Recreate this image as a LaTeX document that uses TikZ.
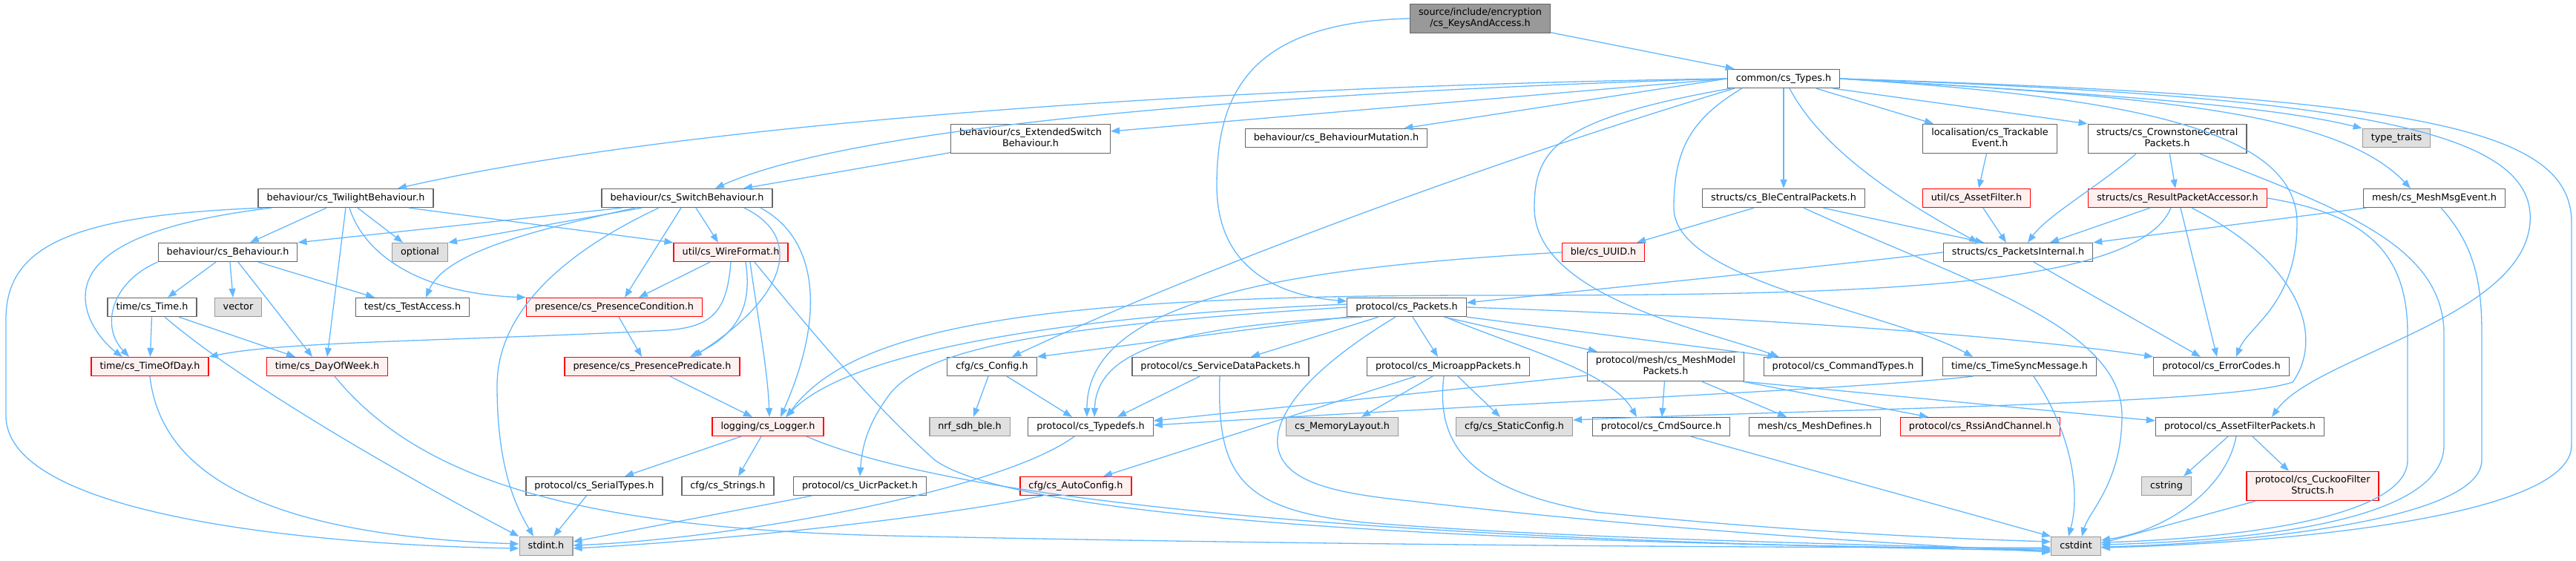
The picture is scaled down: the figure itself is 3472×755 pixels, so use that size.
\documentclass[tikz,border=0pt]{standalone}
\usepackage{fontspec}
\setmainfont{DejaVu Sans}
\usetikzlibrary{arrows.meta}
\definecolor{cedge}{HTML}{63B8FF}
\definecolor{cline}{HTML}{666666}
\definecolor{credfill}{HTML}{FFF0F0}
\definecolor{csysfill}{HTML}{E0E0E0}
\definecolor{csysline}{HTML}{999999}
\definecolor{crootfill}{HTML}{999999}
\tikzset{
  every picture/.style={line width=1.3pt},
  hdr/.style={draw=cline, fill=white, align=center, inner xsep=11.5pt, inner ysep=5pt,
    font=\fontsize{12.8pt}{15pt}\selectfont, execute at begin node=\strut, execute at end node=\strut},
  hdrred/.style={hdr, draw=red, fill=credfill},
  hdrsys/.style={hdr, draw=csysline, fill=csysfill},
  hdrroot/.style={hdr, draw=cline, fill=crootfill},
  dep/.style={draw=cedge, -{Triangle[length=12pt, width=9pt]}},
}
\begin{document}
\begin{tikzpicture}[x=1pt, y=-1pt]
  \useasboundingbox (0,0) rectangle (3472,755);
  % files, one row per rank
  \node[hdrroot] (root) at (1995,25) {source/include/encryption\\/cs\_KeysAndAccess.h};
  \node[hdr] (types) at (2404,106) {common/cs\_Types.h};
  \node[hdr] (extsw) at (1389,187) {behaviour/cs\_ExtendedSwitch\\Behaviour.h};
  \node[hdr] (bmut) at (1801,186) {behaviour/cs\_BehaviourMutation.h};
  \node[hdr] (track) at (2682,187) {localisation/cs\_Trackable\\Event.h};
  \node[hdr] (crown) at (2921,187) {structs/cs\_CrownstoneCentral\\Packets.h};
  \node[hdrsys] (ttraits) at (3230,186) {type\_traits};
  \node[hdr] (twil) at (466,267) {behaviour/cs\_TwilightBehaviour.h};
  \node[hdr] (switch) at (926,267) {behaviour/cs\_SwitchBehaviour.h};
  \node[hdr] (blecent) at (2404,267) {structs/cs\_BleCentralPackets.h};
  \node[hdrred] (assetf) at (2664,267) {util/cs\_AssetFilter.h};
  \node[hdrred] (result) at (2935,267) {structs/cs\_ResultPacketAccessor.h};
  \node[hdr] (meshmsg) at (3281,267) {mesh/cs\_MeshMsgEvent.h};
  \node[hdr] (behav) at (307,340) {behaviour/cs\_Behaviour.h};
  \node[hdrsys] (optional) at (566,340) {optional};
  \node[hdrred] (wire) at (985,340) {util/cs\_WireFormat.h};
  \node[hdrred] (uuid) at (2161,340) {ble/cs\_UUID.h};
  \node[hdr] (pint) at (2720,340) {structs/cs\_PacketsInternal.h};
  \node[hdr] (time) at (205,414) {time/cs\_Time.h};
  \node[hdrsys] (vector) at (321,414) {vector};
  \node[hdr] (test) at (556,414) {test/cs\_TestAccess.h};
  \node[hdrred] (pcond) at (828,414) {presence/cs\_PresenceCondition.h};
  \node[hdr] (packets) at (1896,414) {protocol/cs\_Packets.h};
  \node[hdrred] (tod) at (202,494) {time/cs\_TimeOfDay.h};
  \node[hdrred] (dow) at (441,494) {time/cs\_DayOfWeek.h};
  \node[hdrred] (ppred) at (879,494) {presence/cs\_PresencePredicate.h};
  \node[hdr] (config) at (1337,494) {cfg/cs\_Config.h};
  \node[hdr] (sdata) at (1645,494) {protocol/cs\_ServiceDataPackets.h};
  \node[hdr] (micro) at (1952,494) {protocol/cs\_MicroappPackets.h};
  \node[hdr] (meshmodel) at (2245,494) {protocol/mesh/cs\_MeshModel\\Packets.h};
  \node[hdr] (cmdtypes) at (2484,494) {protocol/cs\_CommandTypes.h};
  \node[hdr] (tsync) at (2722,494) {time/cs\_TimeSyncMessage.h};
  \node[hdr] (errc) at (2994,494) {protocol/cs\_ErrorCodes.h};
  \node[hdrred] (logger) at (1035,575) {logging/cs\_Logger.h};
  \node[hdrsys] (nrf) at (1307,575) {nrf\_sdh\_ble.h};
  \node[hdr] (typedefs) at (1470,575) {protocol/cs\_Typedefs.h};
  \node[hdrsys] (memlay) at (1809,575) {cs\_MemoryLayout.h};
  \node[hdrsys] (static) at (2041,575) {cfg/cs\_StaticConfig.h};
  \node[hdr] (cmdsrc) at (2239,575) {protocol/cs\_CmdSource.h};
  \node[hdr] (meshdef) at (2446,575) {mesh/cs\_MeshDefines.h};
  \node[hdrred] (rssi) at (2669,575) {protocol/cs\_RssiAndChannel.h};
  \node[hdr] (afp) at (3019,575) {protocol/cs\_AssetFilterPackets.h};
  \node[hdr] (serial) at (801,655) {protocol/cs\_SerialTypes.h};
  \node[hdr] (strings) at (981,655) {cfg/cs\_Strings.h};
  \node[hdr] (uicr) at (1159,655) {protocol/cs\_UicrPacket.h};
  \node[hdrred] (autoconf) at (1450,655) {cfg/cs\_AutoConfig.h};
  \node[hdrsys] (cstring) at (2920,655) {cstring};
  \node[hdrred] (cuckoo) at (3117,655) {protocol/cs\_CuckooFilter\\Structs.h};
  \node[hdrsys] (stdint) at (736,736) {stdint.h};
  \node[hdrsys] (cstdint) at (2798,736) {cstdint};
  % top of the graph
  \draw[dep] (root) -- (types);
  \draw[dep] (root.west) .. controls (1680,30) and (1640,130) .. (1640,250) .. controls (1640,360) and (1720,398) .. ([yshift=8pt]packets.west);
  \draw[dep] (types.west) .. controls (1700,115) and (950,160) .. ([xshift=70pt]twil.north);
  \draw[dep] (types.west) .. controls (1700,125) and (1150,170) .. ([xshift=38pt]switch.north);
  \draw[dep] (extsw) -- ([xshift=76pt]switch.north);
  \draw[dep] (types.west) -- ([yshift=10pt]extsw.east);
  \draw[dep] (types.west) -- ([xshift=-32pt]bmut.north east);
  \draw[dep] ([xshift=10pt]types.south west) .. controls (2000,220) and (1600,370) .. ([xshift=27pt]config.north);
  \draw[dep] ([xshift=5pt]types.south west) .. controls (2100,160) and (2068,200) .. (2068,280) .. controls (2068,400) and (2300,445) .. ([xshift=21pt]cmdtypes.north west);
  \draw[dep] ([xshift=20pt]types.south west) .. controls (2280,160) and (2256,200) .. (2256,280) .. controls (2256,380) and (2550,420) .. ([xshift=-63pt]tsync.north);
  \draw[dep] (types) -- (blecent);
  \draw[dep] ([xshift=8pt]types.south) .. controls (2460,210) and (2580,280) .. ([xshift=-54pt]pint.north);
  \draw[dep] (types) -- ([xshift=-76pt]track.north);
  \draw[dep] ([xshift=-10pt]types.south east) -- (crown.north west);
  \draw[dep] (types.east) .. controls (2800,125) and (3050,140) .. (ttraits.north west);
  \draw[dep] (types.east) .. controls (2900,130) and (3150,150) .. ([xshift=-32pt]meshmsg.north);
  \draw[dep] (types.east) .. controls (2850,130) and (3096,170) .. (3096,300) .. controls (3096,410) and (3030,440) .. ([xshift=20pt]errc.north);
  \draw[dep] (types.east) .. controls (3150,130) and (3420,170) .. (3410,300) .. controls (3400,430) and (3120,480) .. ([xshift=43pt]afp.north);
  \draw[dep] (types.east) .. controls (3250,130) and (3466,170) .. (3466,300) -- (3466,600) .. controls (3466,700) and (3050,733) .. ([yshift=-2pt]cstdint.east);
  % behaviour side
  \draw[dep] ([xshift=-112pt]twil.south) .. controls (100,290) and (8,330) .. (8,430) -- (8,560) .. controls (8,700) and (450,735) .. ([yshift=-3pt]stdint.west);
  \draw[dep] ([xshift=-100pt]twil.south) .. controls (200,300) and (115,340) .. (115,400) .. controls (115,440) and (150,470) .. ([xshift=-37pt]tod.north);
  \draw[dep] ([xshift=-26pt]twil.south) -- ([xshift=30pt]behav.north);
  \draw[dep] (twil.south) -- (dow.north);
  \draw[dep] ([xshift=5pt]twil.south) .. controls (490,340) and (560,395) .. (pcond.north west);
  \draw[dep] ([xshift=16pt]twil.south) -- ([xshift=-23pt]optional.north);
  \draw[dep] ([xshift=85pt]twil.south) -- (wire.north west);
  \draw[dep] ([xshift=-88pt]switch.south) -- (behav.north east);
  \draw[dep] ([xshift=-61pt]switch.south) -- (optional.north east);
  \draw[dep] ([xshift=-70pt]switch.south) .. controls (720,310) and (600,340) .. ([xshift=18pt]test.north);
  \draw[dep] ([xshift=-38pt]switch.south) .. controls (760,340) and (670,420) .. (670,520) .. controls (670,640) and (700,690) .. ([xshift=-17pt]stdint.north);
  \draw[dep] ([xshift=-8pt]switch.south) -- ([xshift=14pt]pcond.north);
  \draw[dep] ([xshift=12pt]switch.south) -- ([xshift=-17pt]wire.north);
  \draw[dep] ([xshift=77pt]switch.south) .. controls (1085,320) and (1060,400) .. ([xshift=55pt]ppred.north);
  \draw[dep] ([xshift=99pt]switch.south) .. controls (1100,320) and (1115,420) .. ([xshift=17pt]logger.north);
  \draw[dep] ([xshift=-16pt]behav.south) -- ([xshift=21pt]time.north);
  \draw[dep] ([xshift=3pt]behav.south) -- ([xshift=-7pt]vector.north);
  \draw[dep] ([xshift=14pt]behav.south) -- ([xshift=-20pt]dow.north);
  \draw[dep] ([xshift=41pt]behav.south) -- ([xshift=-51pt]test.north);
  \draw[dep] (behav.south west) .. controls (150,380) and (135,440) .. ([xshift=-28pt]tod.north);
  \draw[dep] (time) -- (tod);
  \draw[dep] ([xshift=36pt]time.south) -- ([xshift=-43pt]dow.north);
  \draw[dep] ([xshift=17pt]time.south) .. controls (330,520) and (560,650) .. (stdint.north west);
  \draw[dep] (tod.south) .. controls (215,620) and (320,720) .. ([yshift=3pt]stdint.west);
  \draw[dep] ([xshift=10pt]dow.south) .. controls (560,640) and (760,712) .. (1200,722) .. controls (1800,735) and (2400,738) .. ([yshift=-2pt]cstdint.west);
  \draw[dep] ([xshift=6pt]pcond.south) -- ([xshift=-14pt]ppred.north);
  \draw[dep] ([xshift=-28pt]wire.south) -- ([xshift=33pt]pcond.north);
  \draw[dep] (wire.south) .. controls (980,420) and (960,440) .. (900,445) .. controls (600,460) and (380,460) .. (tod.north east);
  \draw[dep] ([xshift=20pt]wire.south) .. controls (1012,400) and (1005,445) .. ([xshift=51pt]ppred.north);
  \draw[dep] ([xshift=26pt]wire.south) .. controls (1020,420) and (1035,500) .. ([xshift=2pt]logger.north);
  \draw[dep] ([xshift=32pt]wire.south) .. controls (1080,430) and (1170,540) .. (1260,620) .. controls (1400,720) and (2300,735) .. ([yshift=-4pt]cstdint.west);
  \draw[dep] ([xshift=24pt]ppred.south) -- ([xshift=-21pt]logger.north);
  \draw[dep] ([xshift=-36pt]logger.south) -- ([xshift=41pt]serial.north);
  \draw[dep] ([xshift=-9pt]logger.south) -- ([xshift=14pt]strings.north);
  \draw[dep] ([xshift=52pt]logger.south) .. controls (1300,680) and (1900,730) .. ([yshift=-6pt]cstdint.west);
  \draw[dep] (serial) -- ([xshift=10pt]stdint.north);
  \draw[dep] ([xshift=-65pt]uicr.south) -- ([yshift=6pt]stdint.east);
  \draw[dep] ([xshift=-22pt]typedefs.south) .. controls (1350,660) and (1000,725) .. ([yshift=1pt]stdint.east);
  \draw[dep] ([xshift=-45pt]autoconf.south) .. controls (1250,700) and (950,730) .. ([yshift=-3pt]stdint.east);
  % protocol side
  \draw[dep] (packets.south west) -- (config.north east);
  \draw[dep] ([xshift=-38pt]packets.south) -- ([xshift=41pt]sdata.north);
  \draw[dep] ([xshift=8pt]packets.south) -- ([xshift=-14pt]micro.north);
  \draw[dep] ([xshift=50pt]packets.south) -- ([xshift=14pt]meshmodel.north west);
  \draw[dep] ([xshift=52pt]packets.south) .. controls (2050,470) and (2170,500) .. ([xshift=-33pt]cmdsrc.north);
  \draw[dep] ([xshift=-60pt]packets.south) .. controls (1560,440) and (1478,480) .. ([xshift=5pt]typedefs.north);
  \draw[dep] ([yshift=4pt]packets.west) .. controls (1450,425) and (1150,470) .. ([xshift=24pt]logger.north);
  \draw[dep] (packets.west) .. controls (1400,440) and (1250,470) .. (1200,530) .. controls (1170,570) and (1162,600) .. (uicr.north);
  \draw[dep] ([xshift=-15pt]packets.south) .. controls (1760,500) and (1718,560) .. (1722,600) .. controls (1728,650) and (1800,665) .. (1900,675) .. controls (2200,710) and (2500,730) .. ([yshift=-8pt]cstdint.west);
  \draw[dep] (packets.east) .. controls (2300,425) and (2700,450) .. (errc.north west);
  \draw[dep] (packets.south east) -- ([xshift=18pt]cmdtypes.north west);
  \draw[dep] (pint.west) .. controls (2450,360) and (2150,390) .. ([yshift=6pt]packets.east);
  \draw[dep] ([xshift=21pt]pint.south) -- ([xshift=-28pt]errc.north);
  \draw[dep] ([xshift=-40pt]blecent.south) -- ([xshift=45pt]uuid.north);
  \draw[dep] ([xshift=53pt]blecent.south) -- ([xshift=-46pt]pint.north);
  \draw[dep] ([xshift=27pt]blecent.south) .. controls (2650,380) and (2860,440) .. (2860,560) .. controls (2860,650) and (2815,690) .. ([xshift=8pt]cstdint.north);
  \draw[dep] (uuid.west) .. controls (1750,360) and (1465,400) .. ([xshift=-5pt]typedefs.north);
  \draw[dep] (assetf) -- ([xshift=-16pt]pint.north);
  \draw[dep] (track) -- (assetf);
  \draw[dep] ([xshift=-42pt]crown.south) .. controls (2830,250) and (2760,290) .. ([xshift=13pt]pint.north);
  \draw[dep] (crown) -- ([xshift=-3pt]result.north);
  \draw[dep] ([xshift=44pt]crown.south) .. controls (3150,280) and (3294,330) .. (3294,450) -- (3294,600) .. controls (3294,700) and (3050,728) .. ([yshift=2pt]cstdint.east);
  \draw[dep] ([xshift=-37pt]result.south) -- ([xshift=43pt]pint.north);
  \draw[dep] ([xshift=4pt]result.south) -- ([xshift=-6pt]errc.north);
  \draw[dep] ([xshift=-9pt]result.south) .. controls (2880,390) and (2500,398) .. (2000,398) .. controls (1400,398) and (1150,440) .. ([xshift=25pt]logger.north);
  \draw[dep] ([xshift=19pt]result.south) .. controls (3110,360) and (3130,460) .. (3090,515) .. controls (3000,545) and (2500,550) .. ([yshift=9pt]static.east);
  \draw[dep] (result.east) .. controls (3200,290) and (3245,350) .. (3245,450) -- (3245,620) .. controls (3245,700) and (3000,726) .. ([yshift=5pt]cstdint.east);
  \draw[dep] ([xshift=-92pt]meshmsg.south) -- (pint.north east);
  \draw[dep] ([xshift=9pt]meshmsg.south) .. controls (3335,330) and (3345,380) .. (3345,450) -- (3345,620) .. controls (3345,705) and (3000,733) .. ([yshift=-1pt]cstdint.east);
  \draw[dep] ([xshift=-5pt]config.south) -- ([xshift=5pt]nrf.north);
  \draw[dep] ([xshift=20pt]config.south) -- ([xshift=-25pt]typedefs.north);
  \draw[dep] ([xshift=-28pt]sdata.south) -- ([xshift=36pt]typedefs.north);
  \draw[dep] ([xshift=-1pt]sdata.south) .. controls (1640,640) and (1670,690) .. (1850,705) .. controls (2150,728) and (2500,732) .. ([yshift=-6pt]cstdint.west);
  \draw[dep] ([xshift=-44pt]micro.south) -- ([xshift=37pt]autoconf.north);
  \draw[dep] ([xshift=-21pt]micro.south) -- ([xshift=26pt]memlay.north);
  \draw[dep] ([xshift=-6pt]micro.south) .. controls (1935,600) and (1980,660) .. (2150,690) .. controls (2400,715) and (2600,725) .. ([yshift=6pt]cstdint.west);
  \draw[dep] ([xshift=13pt]micro.south) -- ([xshift=-19pt]static.north);
  \draw[dep] ([yshift=-12pt]meshmodel.west) -- ([yshift=8pt]typedefs.east);
  \draw[dep] (meshmodel) -- (cmdsrc);
  \draw[dep] ([xshift=49pt]meshmodel.south) -- ([xshift=-38pt]meshdef.north);
  \draw[dep] ([xshift=104pt]meshmodel.south) -- ([xshift=-70pt]rssi.north);
  \draw[dep] (meshmodel.south east) -- ([yshift=8pt]afp.west);
  \draw[dep] ([xshift=-63pt]tsync.south) .. controls (2500,525) and (2000,545) .. ([yshift=2pt]typedefs.east);
  \draw[dep] ([xshift=19pt]tsync.south) .. controls (2790,580) and (2805,660) .. ([xshift=-10pt]cstdint.north);
  \draw[dep] ([xshift=40pt]cmdsrc.south) -- (cstdint.north west);
  \draw[dep] ([xshift=-16pt]afp.south) -- ([xshift=23pt]cstring.north);
  \draw[dep] ([xshift=17pt]afp.south) -- ([xshift=-32pt]cuckoo.north);
  \draw[dep] ([xshift=-5pt]afp.south) .. controls (3000,660) and (2920,715) .. ([yshift=8pt]cstdint.east);
  \draw[dep] ([xshift=-77pt]cuckoo.south) -- ([yshift=4pt]cstdint.east);
\end{tikzpicture}
\end{document}
